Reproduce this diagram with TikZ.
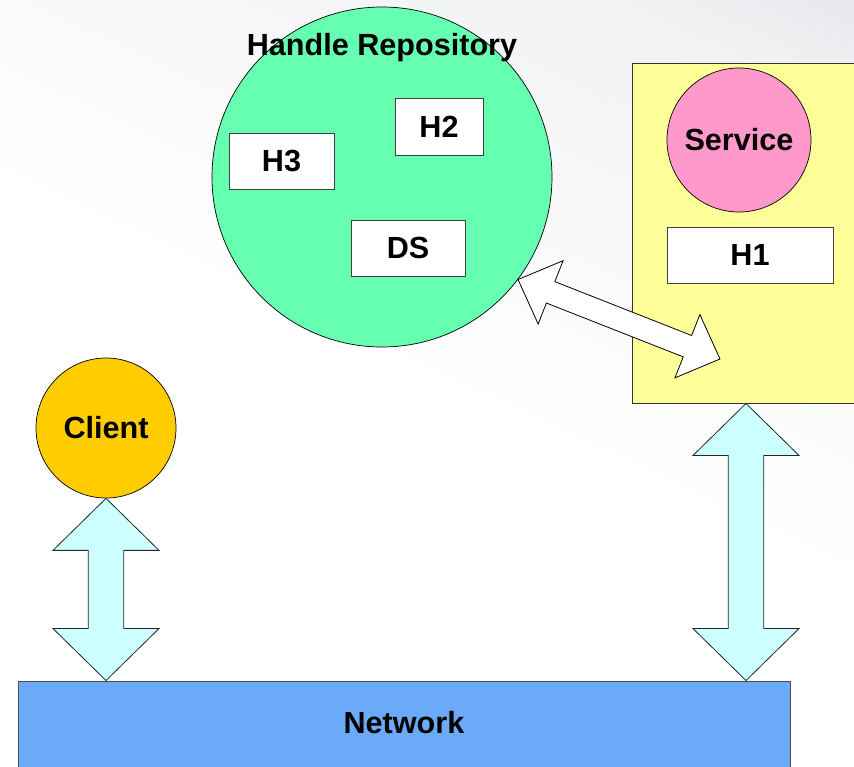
\documentclass[tikz,border=0pt]{standalone}
\usepackage{fontspec}
\setmainfont{Liberation Sans}
\usetikzlibrary{calc}
\definecolor{bgtop}{RGB}{198,202,207}
\definecolor{bgmid}{RGB}{240,241,243}
\definecolor{repofill}{RGB}{102,255,178}
\definecolor{svcbg}{RGB}{255,255,153}
\definecolor{svcfill}{RGB}{255,153,204}
\definecolor{clientfill}{RGB}{255,204,0}
\definecolor{netfill}{RGB}{106,170,248}
\definecolor{arrowfill}{RGB}{204,255,255}
\pgfdeclareverticalshading{bgsh}{100bp}{color(0bp)=(white); color(50bp)=(white); color(78bp)=(bgmid); color(100bp)=(bgtop)}
\newcommand\dblarr[6]{%
  \draw[#6] (#1) -- ($(#1)!#5!(#2)!#4!90:(#2)$) -- ($(#1)!#5!(#2)!#3!90:(#2)$)
    -- ($(#2)!#5!(#1)!#3!-90:(#1)$) -- ($(#2)!#5!(#1)!#4!-90:(#1)$) -- (#2)
    -- ($(#2)!#5!(#1)!#4!90:(#1)$) -- ($(#2)!#5!(#1)!#3!90:(#1)$)
    -- ($(#1)!#5!(#2)!#3!-90:(#2)$) -- ($(#1)!#5!(#2)!#4!-90:(#2)$) -- cycle;}
\tikzset{
  lbl/.style={font=\bfseries\fontsize{30.6}{36}\selectfont},
  hbox/.style={draw=black!75, line width=0.9pt, fill=white, inner sep=0pt, lbl},
  blob/.style={circle, draw=black, line width=0.7pt, inner sep=0pt, lbl},
  bigarrow/.style={draw=black!85, line width=0.8pt, fill=arrowfill, line join=miter},
  diagarrow/.style={draw=black, line width=0.8pt, fill=white, line join=miter},
}
\begin{document}
\begin{tikzpicture}[x=1pt,y=-1pt]
\useasboundingbox (0,0) rectangle (854,766);
\shade[shading=bgsh, shading angle=-25] (0,0) rectangle (854,766);
% handle repository
\node[blob, fill=repofill, minimum size=340pt] (repo) at (382,177) {};
\node[lbl, anchor=base, inner sep=0pt] (repolabel) at (382,55) {Handle Repository};
\node[hbox, minimum width=88pt, minimum height=57pt] (h2) at (439,126.5) {H2};
\node[hbox, minimum width=105pt, minimum height=56pt] (h3) at (281.5,161) {H3};
\node[hbox, minimum width=114pt, minimum height=56pt] (ds) at (408,248) {DS};
% service box
\node[draw=black!80, line width=0.9pt, fill=svcbg, minimum width=228pt, minimum height=340pt, inner sep=0pt] (svcbox) at (746,233) {};
\node[blob, fill=svcfill, minimum size=144pt] (service) at (739,140) {Service};
\node[hbox, minimum width=166pt, minimum height=56pt] (h1) at (750,255) {H1};
% client
\node[blob, fill=clientfill, minimum size=140pt] (client) at (106,428) {Client};
% network
\node[draw=black!70, line width=0.9pt, fill=netfill, minimum width=772pt, minimum height=89pt, inner sep=0pt] (network) at (404,725.5) {};
\node[lbl, inner sep=0pt] (netlabel) at (404,723) {Network};
% connectors
\coordinate (clnet) at (client.south |- network.north);
\coordinate (svnet) at (svcbox.south |- network.north);
\coordinate (dstart) at (repo.-37);
\coordinate (dend) at (720,359);
\dblarr{client.south}{clnet}{17.7pt}{53pt}{52pt}{bigarrow}
\dblarr{svcbox.south}{svnet}{17.7pt}{53pt}{52pt}{bigarrow}
\dblarr{dstart}{dend}{11.5pt}{34pt}{35pt}{diagarrow}
\end{tikzpicture}
\end{document}
